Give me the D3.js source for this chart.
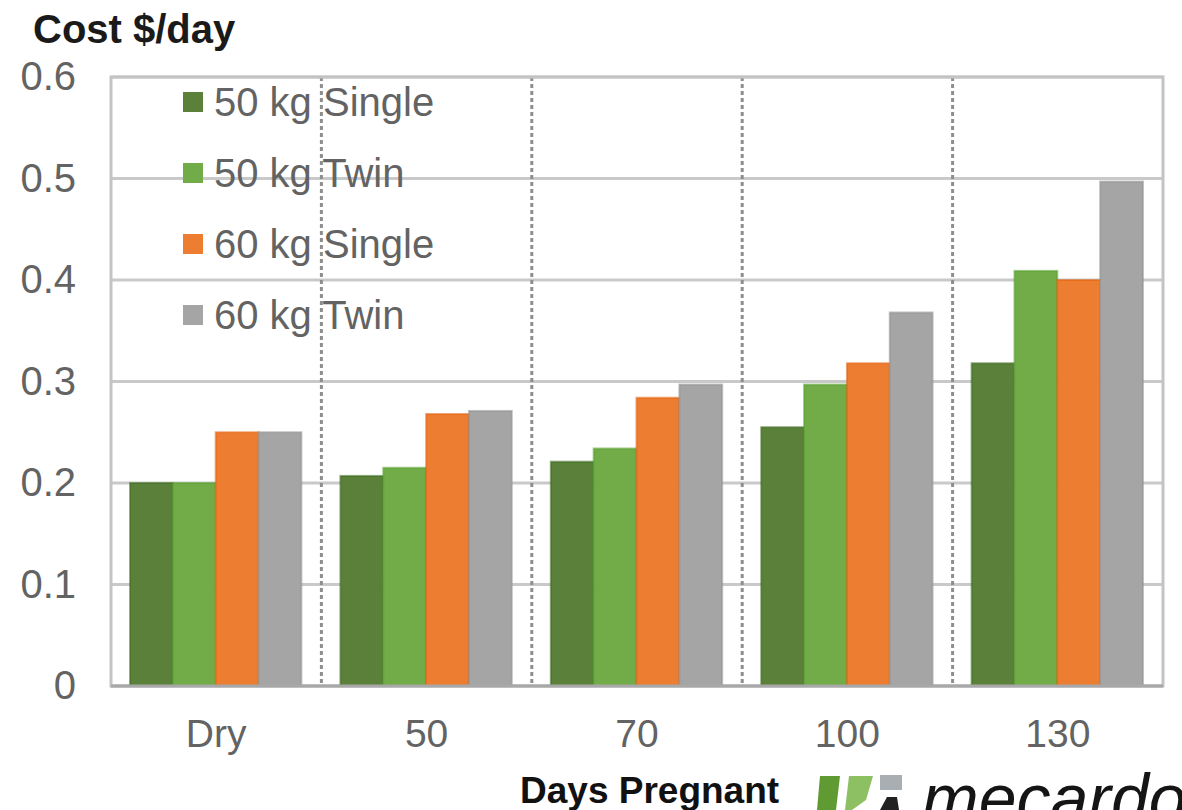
<!DOCTYPE html>
<html>
<head>
<meta charset="utf-8">
<script src="https://cdn.jsdelivr.net/npm/d3@7"></script>
<style>
  body { margin: 0; background: #fff; }
  svg { display: block; font-family: "Liberation Sans", Arial, sans-serif; }
</style>
</head>
<body>
<div id="chart"></div>
<script>
const categories = ['Dry', '50', '70', '100', '130'];
const seriesNames = ['50 kg Single', '50 kg Twin', '60 kg Single', '60 kg Twin'];
const single50 = [0.200, 0.207, 0.221, 0.255, 0.318];
const twin50 = [0.200, 0.215, 0.234, 0.297, 0.409];
const single60 = [0.250, 0.268, 0.284, 0.318, 0.400];
const twin60 = [0.250, 0.271, 0.297, 0.368, 0.497];
const yTicks = [0, 0.1, 0.2, 0.3, 0.4, 0.5, 0.6];

const colors = ['#5a803a', '#71ac48', '#ed7d31', '#a5a5a5'];
const edges = ['#3d6a1d', '#55a02e', '#e4600c', '#8f8f8f'];

const width = 1182, height = 810;
const margin = { top: 77, right: 19, bottom: 124, left: 111 };
const innerW = width - margin.left - margin.right;
const innerH = height - margin.top - margin.bottom;

const svg = d3.select('#chart').append('svg')
    .attr('width', width)
    .attr('height', height);

const chart = svg.append('g')
    .attr('transform', `translate(${margin.left},${margin.top})`);

const y = d3.scaleLinear().domain([0, 0.6]).range([innerH, 0]);
const x0 = d3.scaleBand().domain(categories).range([0, innerW]);
const x1 = d3.scaleBand().domain(seriesNames).range([19, x0.bandwidth() - 20]);

// horizontal gridlines
chart.append('g')
    .selectAll('line')
    .data(yTicks)
    .join('line')
    .attr('x1', 0).attr('x2', innerW)
    .attr('y1', d => y(d)).attr('y2', d => y(d))
    .attr('stroke', '#c9c9c9')
    .attr('stroke-width', 3);

// dotted category dividers
chart.append('g')
    .selectAll('line')
    .data(categories.slice(1))
    .join('line')
    .attr('x1', d => x0(d)).attr('x2', d => x0(d))
    .attr('y1', 0).attr('y2', innerH)
    .attr('stroke', '#8e8e8e')
    .attr('stroke-width', 3)
    .attr('stroke-dasharray', '4,3');

// frame
chart.append('rect')
    .attr('x', 0).attr('y', 0)
    .attr('width', innerW).attr('height', innerH)
    .attr('fill', 'none')
    .attr('stroke', '#c3c3c3')
    .attr('stroke-width', 3);

// bars
const series = [single50, twin50, single60, twin60];
const rows = categories.map((c, i) => ({ cat: c, values: series.map((s, j) => ({ key: seriesNames[j], idx: j, value: s[i] })) }));

const groups = chart.append('g')
    .selectAll('g')
    .data(rows)
    .join('g')
    .attr('transform', d => `translate(${x0(d.cat)},0)`);

groups.selectAll('rect')
    .data(d => d.values)
    .join('rect')
    .attr('x', d => x1(d.key))
    .attr('y', d => y(d.value))
    .attr('width', x1.bandwidth())
    .attr('height', d => innerH - y(d.value))
    .attr('fill', d => colors[d.idx])
    .attr('stroke', d => edges[d.idx])
    .attr('stroke-width', 2)
    .attr('stroke-opacity', 0.55);

// bottom axis line
chart.append('line')
    .attr('x1', 0).attr('x2', innerW)
    .attr('y1', innerH).attr('y2', innerH)
    .attr('stroke', '#a8a8a8')
    .attr('stroke-width', 3);

// axes
const yAxis = d3.axisLeft(y)
    .tickValues(yTicks)
    .tickSize(0)
    .tickPadding(35)
    .tickFormat(d => d === 0 ? '0' : d3.format('.1f')(d));

chart.append('g')
    .attr('class', 'y-axis')
    .call(yAxis)
    .call(g => g.select('.domain').remove())
    .selectAll('text')
    .attr('fill', '#636363')
    .style('font-size', '40px');

const xAxis = d3.axisBottom(x0).tickSize(0).tickPadding(33);

chart.append('g')
    .attr('class', 'x-axis')
    .attr('transform', `translate(0,${innerH})`)
    .call(xAxis)
    .call(g => g.select('.domain').remove())
    .selectAll('text')
    .attr('fill', '#636363')
    .style('font-size', '39px');

// legend
const legend = svg.append('g')
    .selectAll('g')
    .data(seriesNames)
    .join('g')
    .attr('transform', (d, i) => `translate(183,${102 + i * 71})`);

legend.append('rect')
    .attr('x', 0).attr('y', -10)
    .attr('width', 20).attr('height', 20)
    .attr('fill', (d, i) => colors[i]);

legend.append('text')
    .attr('x', 31)
    .attr('dy', '0.36em')
    .attr('fill', '#636363')
    .style('font-size', '40px')
    .text(d => d);

// titles
svg.append('text')
    .attr('x', 33).attr('y', 43)
    .attr('fill', '#1a1a1a')
    .style('font-size', '40px')
    .style('font-weight', 'bold')
    .text('Cost $/day');

svg.append('text')
    .attr('x', 520).attr('y', 803)
    .attr('fill', '#111')
    .style('font-size', '37px')
    .style('font-weight', 'bold')
    .text('Days Pregnant');

// logo
const logo = svg.append('g');
logo.append('path').attr('d', 'M820,776 L840,776 L836,810 L817,810 Z').attr('fill', '#5f9a32');
logo.append('path').attr('d', 'M849,776 L873,776 L866,800 L852,810 L845,810 Z').attr('fill', '#8cc063');
logo.append('rect').attr('x', 880).attr('y', 775).attr('width', 22).attr('height', 15).attr('fill', '#a9aeb3');
logo.append('path').attr('d', 'M880,810 L887,797 L897,797 L899,810 Z').attr('fill', '#222');
logo.append('text')
    .attr('x', 922).attr('y', 822)
    .attr('fill', '#151515')
    .style('font-size', '68px')
    .style('font-style', 'italic')
    .text('mecardo');
</script>
</body>
</html>
